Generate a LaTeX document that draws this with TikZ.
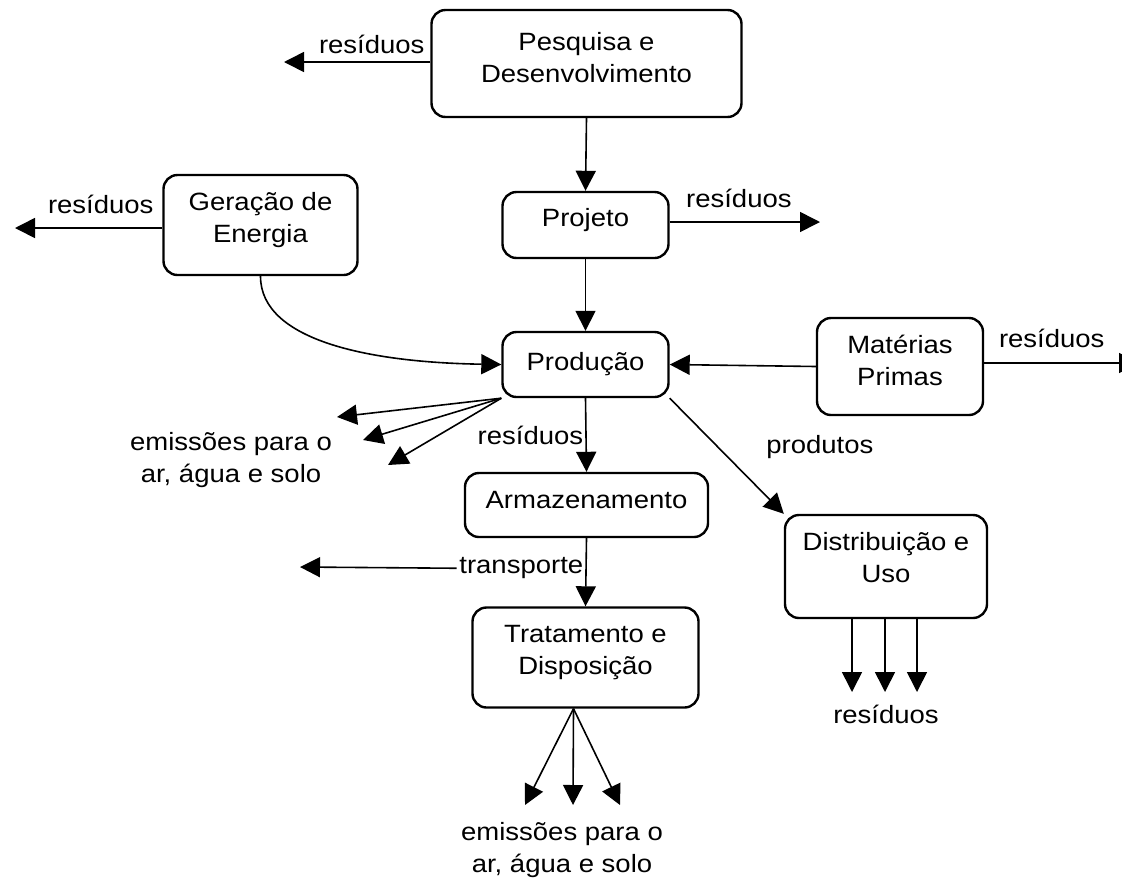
\documentclass[tikz,border=0pt]{standalone}
\usepackage{fontspec}
\setmainfont{Liberation Sans}[FakeStretch=1.1]
\usetikzlibrary{arrows.meta,positioning}
\tikzstyle{stage} = [draw=black, line width=2.4pt, fill=white, rectangle,
    rounded corners=14pt, align=center, inner sep=0pt, text height=20pt]
\tikzstyle{tag} = [align=center, inner sep=2pt]
\tikzstyle{flow} = [line width=1.6pt, -{Triangle[length=20pt,width=20pt]}]

\begin{document}
\begin{tikzpicture}[x=1pt, y=-1pt, font=\fontsize{25}{32}\selectfont]
                \fill[white] (0,0) rectangle (1122,879);
                \useasboundingbox (0,0) rectangle (1122,879);
                \node[stage, minimum width=310pt, minimum height=107pt, text height=50pt, text depth=13pt] (pesq) at (586.5,63.5) {Pesquisa e\\Desenvolvimento};
                \node[stage, minimum width=166pt, minimum height=66pt, text depth=17pt] (proj) at (585.5,225) {Projeto};
                \node[stage, minimum width=194pt, minimum height=100pt, text height=50pt, text depth=16pt] (ger) at (260.5,225) {Geração de\\Energia};
                \node[stage, minimum width=166pt, minimum height=65pt, text depth=9pt] (prod) at (585.5,364.5) {Produção};
                \node[stage, minimum width=166pt, minimum height=97pt, text height=50pt, text depth=13pt] (mat) at (900,366.5) {Matérias\\Primas};
                \node[stage, minimum width=243pt, minimum height=64pt, text depth=14pt] (armaz) at (586.5,505) {Armazenamento};
                \node[stage, minimum width=202pt, minimum height=103pt, text height=50pt, text depth=19pt] (dist) at (886,566.5) {Distribuição e\\Uso};
                \node[stage, minimum width=226pt, minimum height=100pt, text height=50pt, text depth=17pt] (trat) at (585.5,657.5) {Tratamento e\\Disposição};
                \coordinate (pesqOut) at (284,62);
                \coordinate (projOut) at (820,222);
                \coordinate (gerOut) at (15,228);
                \coordinate (matOut) at (1139,363);
                \coordinate (transpOut) at (300,567);
                \coordinate (prodAr) at (337,417);
                \coordinate (prodAgua) at (363,440);
                \coordinate (prodSolo) at (388,465);
                \coordinate (tratAr) at (525,805);
                \coordinate (tratAgua) at (573,805);
                \coordinate (tratSolo) at (620,805);
                \foreach \i/\x in {A/852,B/885,C/917} \coordinate (dist\i) at (\x,692);
                \draw[flow] (pesq.west |- pesqOut) -- (pesqOut) node[tag, pos=0, anchor=base east, xshift=-3pt, yshift=9pt] {resíduos};
                \draw[flow] (proj.east |- projOut) -- (projOut) node[tag, midway, anchor=base, xshift=-6pt, yshift=15pt] {resíduos};
                \draw[flow] (ger.west |- gerOut) -- (gerOut) node[tag, pos=0, anchor=base east, xshift=-6pt, yshift=15pt] {resíduos};
                \draw[flow] (mat.east |- matOut) -- (matOut) node[tag, pos=0, anchor=base west, xshift=12pt, yshift=16pt] {resíduos};
                \draw[flow] (ger.south) .. controls +(0,65) and +(-130,-2) .. (prod.west);
                \draw[flow] (pesq.south) -- (proj.north);
                \draw[flow] (proj.south) -- (prod.north);
                \draw[flow] (mat.west) -- (prod.east);
                \draw[flow] (prod.south east) -- (dist.north west) node[tag, pos=0.42, anchor=west, xshift=46pt] {produtos};
                \draw[flow] (prod.south) -- (armaz.north) node[tag, midway, left] {resíduos};
                \draw[flow] (armaz.south) -- (trat.north) node[tag, midway, left, yshift=4pt] (transp) {transporte};
                \draw[flow] (transp.west) -- (transpOut);
                \foreach \e in {prodAr, prodAgua, prodSolo} \draw[flow] (prod.south west) -- (\e);
                \foreach \e in {tratAr, tratAgua, tratSolo} \draw[flow] ([xshift=-12pt]trat.south) -- (\e);
                \foreach \i in {A,B,C} \draw[flow] (dist.south -| dist\i) -- (dist\i);
                \node[tag, anchor=base] (prodEmis) at (231,482) {emissões para o\\ar, água e solo};
                \node[tag, anchor=base] (distRes) at (886,723) {resíduos};
                \node[tag, anchor=base] (tratEmis) at (562,872) {emissões para o\\ar, água e solo};
            \end{tikzpicture}
\end{document}
